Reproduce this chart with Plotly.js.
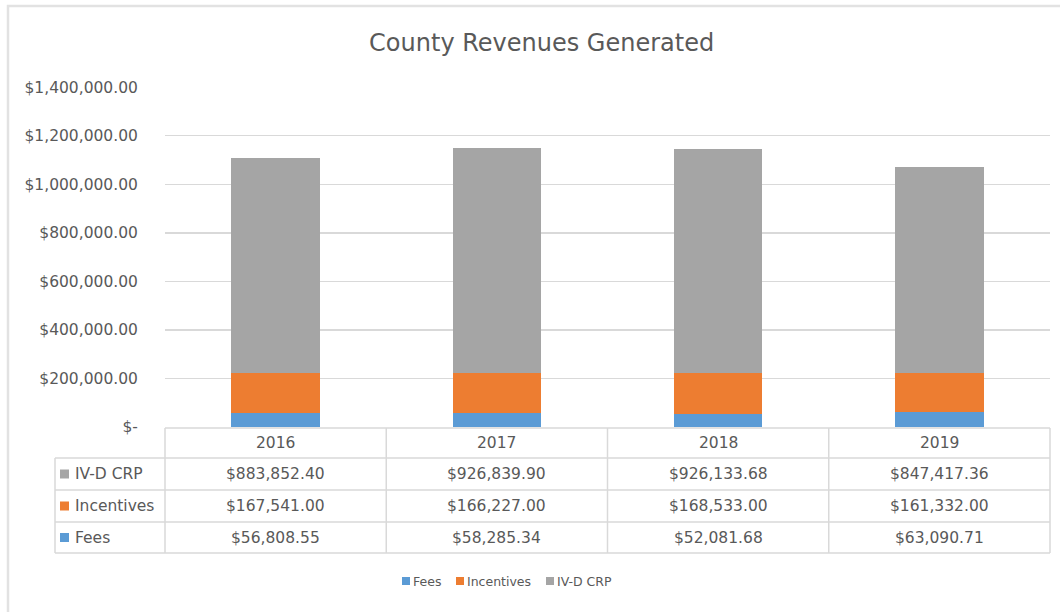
<!DOCTYPE html>
<html>
<head>
<meta charset="utf-8">
<script src="https://cdn.plot.ly/plotly-3.0.1.min.js"></script>
<style>html,body{margin:0;padding:0;background:#fff;}#chart{width:1060px;height:612px;}</style>
</head>
<body>
<div id="chart"></div>
<script>
const years = ["2016", "2017", "2018", "2019"];
const seriesNames = ["Fees", "Incentives", "IV-D CRP"];
const fees = [56808.55, 58285.34, 52081.68, 63090.71];
const incentives = [167541.00, 166227.00, 168533.00, 161332.00];
const ivdCrp = [883852.40, 926839.90, 926133.68, 847417.36];
const feesText = ["$56,808.55", "$58,285.34", "$52,081.68", "$63,090.71"];
const incentivesText = ["$167,541.00", "$166,227.00", "$168,533.00", "$161,332.00"];
const ivdCrpText = ["$883,852.40", "$926,839.90", "$926,133.68", "$847,417.36"];
const yTickVals = [0, 200000, 400000, 600000, 800000, 1000000, 1200000, 1400000];
const yTickText = ["$-", "$200,000.00", "$400,000.00", "$600,000.00", "$800,000.00", "$1,000,000.00", "$1,200,000.00", "$1,400,000.00"];

const FONT = "'DejaVu Sans', sans-serif";
const TXT = "#595959";
const LINE = "#d9d9d9";
const seriesColors = ["#5B9BD5", "#ED7D31", "#A5A5A5"];
const seriesValues = [fees, incentives, ivdCrp];

const L = 165, R = 1050, T = 87, B = 427;
const plotW = R - L, plotH = B - T;
const px = p => (p - L) / plotW;
const py = p => (B - p) / plotH;

const xIdx = years.map((_, i) => i);
const traces = seriesNames.map((n, k) => ({
  type: "bar", name: n, x: xIdx, y: seriesValues[k], marker: {color: seriesColors[k]}, showlegend: false
}));

const rowY = [py(428), py(458), py(490), py(522), py(553)];
const shapes = [];
const lineStyle = {color: LINE, width: 1.5};
shapes.push({type: "line", xref: "paper", yref: "paper", x0: 0, x1: 1, y0: rowY[0], y1: rowY[0], line: lineStyle});
for (let r = 1; r < rowY.length; r++) {
  shapes.push({type: "line", xref: "paper", yref: "paper", x0: px(55), x1: 1, y0: rowY[r], y1: rowY[r], line: lineStyle});
}
for (let c = 0; c <= years.length; c++) {
  const xv = c / years.length;
  shapes.push({type: "line", xref: "paper", yref: "paper", x0: xv, x1: xv, y0: rowY[0], y1: rowY[4], line: lineStyle});
}
shapes.push({type: "line", xref: "paper", yref: "paper", x0: px(55), x1: px(55), y0: rowY[1], y1: rowY[4], line: lineStyle});
// chart frame
shapes.push({type: "rect", xref: "paper", yref: "paper", x0: px(8), x1: px(1080), y0: py(650), y1: py(6), line: {color: "#e2e2e2", width: 2.5}, fillcolor: "rgba(0,0,0,0)"});

const annotations = [];
const cellFont = {family: FONT, size: 15.5, color: TXT};
const tableRows = [
  {k: 2, vals: ivdCrpText},
  {k: 1, vals: incentivesText},
  {k: 0, vals: feesText}
];
years.forEach((yr, i) => {
  annotations.push({xref: "x", yref: "paper", x: i, y: (rowY[0] + rowY[1]) / 2, yanchor: "middle", text: yr, showarrow: false, font: cellFont});
});
tableRows.forEach((row, r) => {
  const yc = (rowY[r + 1] + rowY[r + 2]) / 2;
  row.vals.forEach((v, i) => {
    annotations.push({xref: "x", yref: "paper", x: i, y: yc, yanchor: "middle", text: v, showarrow: false, font: cellFont});
  });
  annotations.push({xref: "paper", yref: "paper", x: px(73), y: yc, xanchor: "left", yanchor: "middle", text: seriesNames[row.k], showarrow: false, font: cellFont});
  const hw = 4.5 / plotW, hh = 4.5 / plotH, cx = px(64.5);
  shapes.push({type: "rect", xref: "paper", yref: "paper", x0: cx - hw, x1: cx + hw, y0: yc - hh, y1: yc + hh, fillcolor: seriesColors[row.k], line: {width: 0}});
});

// bottom legend
const legendY = py(581);
const legendSquares = [406, 460, 550];
const legendFont = {family: FONT, size: 12.5, color: TXT};
seriesNames.forEach((n, k) => {
  const cx = legendSquares[k];
  shapes.push({type: "rect", xref: "paper", yref: "paper", x0: px(cx - 4), x1: px(cx + 4), y0: legendY - 4 / plotH, y1: legendY + 4 / plotH, fillcolor: seriesColors[k], line: {width: 0}});
  annotations.push({xref: "paper", yref: "paper", x: px(cx + 5), y: legendY, xanchor: "left", yanchor: "middle", text: n, showarrow: false, font: legendFont});
});

const layout = {
  width: 1060, height: 612,
  margin: {l: L, r: 1060 - R, t: T, b: 612 - B},
  paper_bgcolor: "#fff", plot_bgcolor: "#fff",
  barmode: "stack", bargap: 0.6,
  font: {family: FONT, color: TXT, size: 15.5},
  title: {text: "County Revenues Generated", x: 0.511, xref: "container", y: 1 - 43 / 612, yref: "container", yanchor: "middle", font: {family: FONT, size: 24, color: TXT}},
  xaxis: {range: [-0.5, 3.5], showticklabels: false, ticks: "", showgrid: false, zeroline: false, showline: false, fixedrange: true},
  yaxis: {range: [0, 1400600], tickvals: yTickVals, ticktext: yTickText, showgrid: true, gridcolor: LINE, gridwidth: 1.5, zeroline: false, showline: false, ticks: "outside", ticklen: 23, tickcolor: "rgba(0,0,0,0)", tickfont: {family: FONT, size: 15.5, color: TXT}},
  showlegend: false,
  shapes: shapes,
  annotations: annotations
};

Plotly.newPlot("chart", traces, layout, {displayModeBar: false, staticPlot: true});
</script>
</body>
</html>
